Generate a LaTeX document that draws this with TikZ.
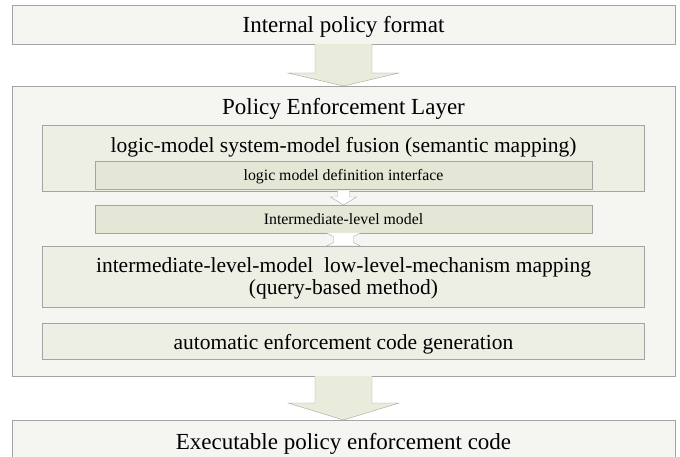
\documentclass[tikz,border=0pt]{standalone}
\usepackage{fontspec}
\setmainfont{Liberation Serif}
\usepackage{xcolor}
\usetikzlibrary{positioning,calc}

\definecolor{linegray}{HTML}{A4A4A4}
\definecolor{outerfill}{HTML}{F5F6F1}
\definecolor{blockfill}{HTML}{EDEEE4}
\definecolor{subfill}{HTML}{E4E6D6}
\definecolor{arrowfill}{HTML}{E9EBDB}

\begin{document}
\begin{tikzpicture}[x=1pt, y=1pt, node distance=16pt,
    outerbox/.style={rectangle, draw=linegray, fill=outerfill, minimum width=663pt, inner sep=0pt, outer sep=0pt},
    block/.style={rectangle, draw=linegray, fill=blockfill, minimum width=602pt, inner sep=0pt, outer sep=0pt},
    subblock/.style={rectangle, draw=linegray, fill=subfill, minimum width=497pt, minimum height=28pt, inner sep=0pt, outer sep=0pt},
    bigtext/.style={font=\fontsize{23}{22}\selectfont},
    blocktext/.style={font=\fontsize{21.5}{22}\selectfont},
    smalltext/.style={font=\fontsize{15.8}{18}\selectfont},
    fatarrow/.style={draw=linegray, fill=arrowfill},
    thinarrow/.style={draw=linegray, fill=white}]

    \useasboundingbox (0,0) rectangle (680,-457);

    % Outer boxes
    \node[outerbox, minimum height=39pt, bigtext, text height=17pt, text depth=0pt] (fmt) at (343.5,-24.5) {Internal policy format};
    \node[outerbox, minimum height=290pt, below=42pt of fmt] (layer) {};
    \node[outerbox, minimum height=45pt, below=44pt of layer, bigtext, text height=13pt, text depth=0pt] (exec) {Executable policy enforcement code};
    \node[bigtext, below=9pt of layer.north] (layertitle) {Policy Enforcement Layer};

    % Inside the layer
    \node[block, minimum height=66pt, below=39pt of layer.north] (fusion) {};
    \node[blocktext, below=9pt of fusion.north] (fusiontitle) {logic-model system-model fusion (semantic mapping)};
    \node[subblock, smalltext, text depth=1pt, above=2pt of fusion.south] (iface) {logic model definition interface};
    \node[subblock, smalltext, below=16pt of iface] (inter) {Intermediate-level model};
    \node[block, minimum height=61pt, below=13pt of inter, blocktext, text depth=0pt, align=center] (mapping) {intermediate-level-model\ \ low-level-mechanism mapping\\(query-based method)};
    \node[block, minimum height=36pt, below=16pt of mapping, blocktext, text height=16.5pt, text depth=0pt] (auto) {automatic enforcement code generation};

    % Fat arrows between the outer boxes
    \filldraw[fatarrow] ($(fmt.south)+(-28.5,0)$) -- ($(fmt.south)+(-28.5,-29)$) -- ($(fmt.south)+(-55.5,-29)$)
        -- (layer.north) -- ($(fmt.south)+(55.5,-29)$) -- ($(fmt.south)+(28.5,-29)$) -- ($(fmt.south)+(28.5,0)$);
    \filldraw[fatarrow] ($(layer.south)+(-28.5,0)$) -- ($(layer.south)+(-28.5,-27)$) -- ($(layer.south)+(-55.5,-27)$)
        -- (exec.north) -- ($(layer.south)+(55.5,-27)$) -- ($(layer.south)+(28.5,-27)$) -- ($(layer.south)+(28.5,0)$);

    % Small hollow arrows
    \filldraw[thinarrow] ($(fusion.south)+(-6,0)$) -- ($(fusion.south)+(-6,-6)$) -- ($(fusion.south)+(-13,-6)$)
        -- (inter.north) -- ($(fusion.south)+(13,-6)$) -- ($(fusion.south)+(6,-6)$) -- ($(fusion.south)+(6,0)$);
    \filldraw[thinarrow] ($(inter.south)+(-17,0)$) -- ($(inter.south)+(-10,-3.5)$) -- ($(mapping.north)+(-10,3.5)$)
        -- ($(mapping.north)+(-17,0)$) -- ($(mapping.north)+(17,0)$) -- ($(mapping.north)+(10,3.5)$)
        -- ($(inter.south)+(10,-3.5)$) -- ($(inter.south)+(17,0)$);

\end{tikzpicture}
\end{document}
